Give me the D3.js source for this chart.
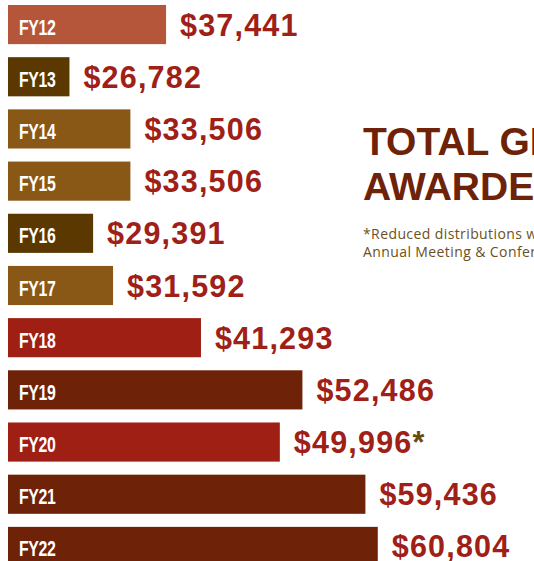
<!DOCTYPE html>
<html>
<head>
<meta charset="utf-8">
<script src="https://cdn.jsdelivr.net/npm/d3@7"></script>
<style>
  body { margin: 0; background: #fff; overflow: hidden; }
  svg { display: block; }
</style>
</head>
<body>
<script>
(function(){

//data
var years = ["FY12", "FY13", "FY14", "FY15", "FY16", "FY17", "FY18", "FY19", "FY20", "FY21", "FY22"];
var amounts = [37441, 26782, 33506, 33506, 29391, 31592, 41293, 52486, 49996, 59436, 60804];
var noteYears = ["FY20"]; //values that carry the asterisk
var titleLines = ["TOTAL GRANTS", "AWARDED"];
var noteLines = ["*Reduced distributions were made due to cancellation of the",
                 "Annual Meeting & Conference"];

//frame
var width = 534,
    height = 561;

var svg = d3.select("body")
  .append("svg")
  .attr("width", width)
  .attr("height", height);

//bar colours per year
var barColor = d3.scaleOrdinal()
  .domain(years)
  .range(["#b5563a", "#5a3800", "#8a5816", "#8a5816", "#5a3800", "#8a5816",
          "#a01f15", "#6e2208", "#a01f15", "#6e2208", "#6e2208"]);

//scales - bars start at a $20,000 baseline
var x = d3.scaleLinear()
  .domain([20000, 60000])
  .range([8, 370.5]);

var y = d3.scaleBand()
  .domain(years)
  .range([5, 566])
  .paddingInner(0.25)
  .paddingOuter(0)
  .align(0);

var rows = years.map(function(d, i){
  return {year: d, value: amounts[i], note: noteYears.indexOf(d) > -1};
});

var row = svg.selectAll(".row")
  .data(rows)
  .enter()
  .append("g")
  .attr("class", "row");

row.append("rect")
  .attr("x", x(20000))
  .attr("y", function(d){ return y(d.year); })
  .attr("width", function(d){ return x(d.value) - x(20000); })
  .attr("height", y.bandwidth())
  .style("fill", function(d){ return barColor(d.year); });

//year label inside the bar, squeezed to look condensed
row.append("text")
  .attr("transform", function(d){
    return "translate(19," + (y(d.year) + y.bandwidth() / 2 + 10) + ") scale(0.72,1)";
  })
  .style("font-family", "'Liberation Sans', Arial, sans-serif")
  .style("font-weight", "bold")
  .style("font-size", "22px")
  .style("letter-spacing", "-0.5px")
  .style("fill", "#fff")
  .text(function(d){ return d.year; });

//value label after the bar
var fmt = d3.format("$,");
var val = row.append("text")
  .attr("x", function(d){ return x(d.value) + 14; })
  .attr("y", function(d){ return y(d.year) + y.bandwidth() / 2 + 11; })
  .style("font-family", "'Liberation Sans', Arial, sans-serif")
  .style("font-weight", "bold")
  .style("font-size", "30.5px")
  .style("letter-spacing", "1.2px")
  .style("fill", "#9e2016")
  .text(function(d){ return fmt(d.value); });

val.filter(function(d){ return d.note; })
  .append("tspan")
  .style("fill", "#6b4a10")
  .text("*");

//title
svg.append("text")
  .attr("x", 363)
  .attr("y", 155)
  .style("font-family", "'Liberation Sans', Arial, sans-serif")
  .style("font-weight", "bold")
  .style("font-size", "39px")
  .style("fill", "#6e2208")
  .selectAll("tspan")
  .data(titleLines)
  .enter()
  .append("tspan")
  .attr("x", 363)
  .attr("dy", function(d, i){ return i ? 45 : 0; })
  .text(function(d){ return d; });

//footnote
svg.append("text")
  .attr("x", 363)
  .attr("y", 239)
  .style("font-family", "'Open Sans', sans-serif")
  .style("font-size", "14px")
  .style("letter-spacing", "0.4px")
  .style("fill", "#6b5020")
  .selectAll("tspan")
  .data(noteLines)
  .enter()
  .append("tspan")
  .attr("x", 363)
  .attr("dy", function(d, i){ return i ? 17.5 : 0; })
  .text(function(d){ return d; });

})();
</script>
</body>
</html>
